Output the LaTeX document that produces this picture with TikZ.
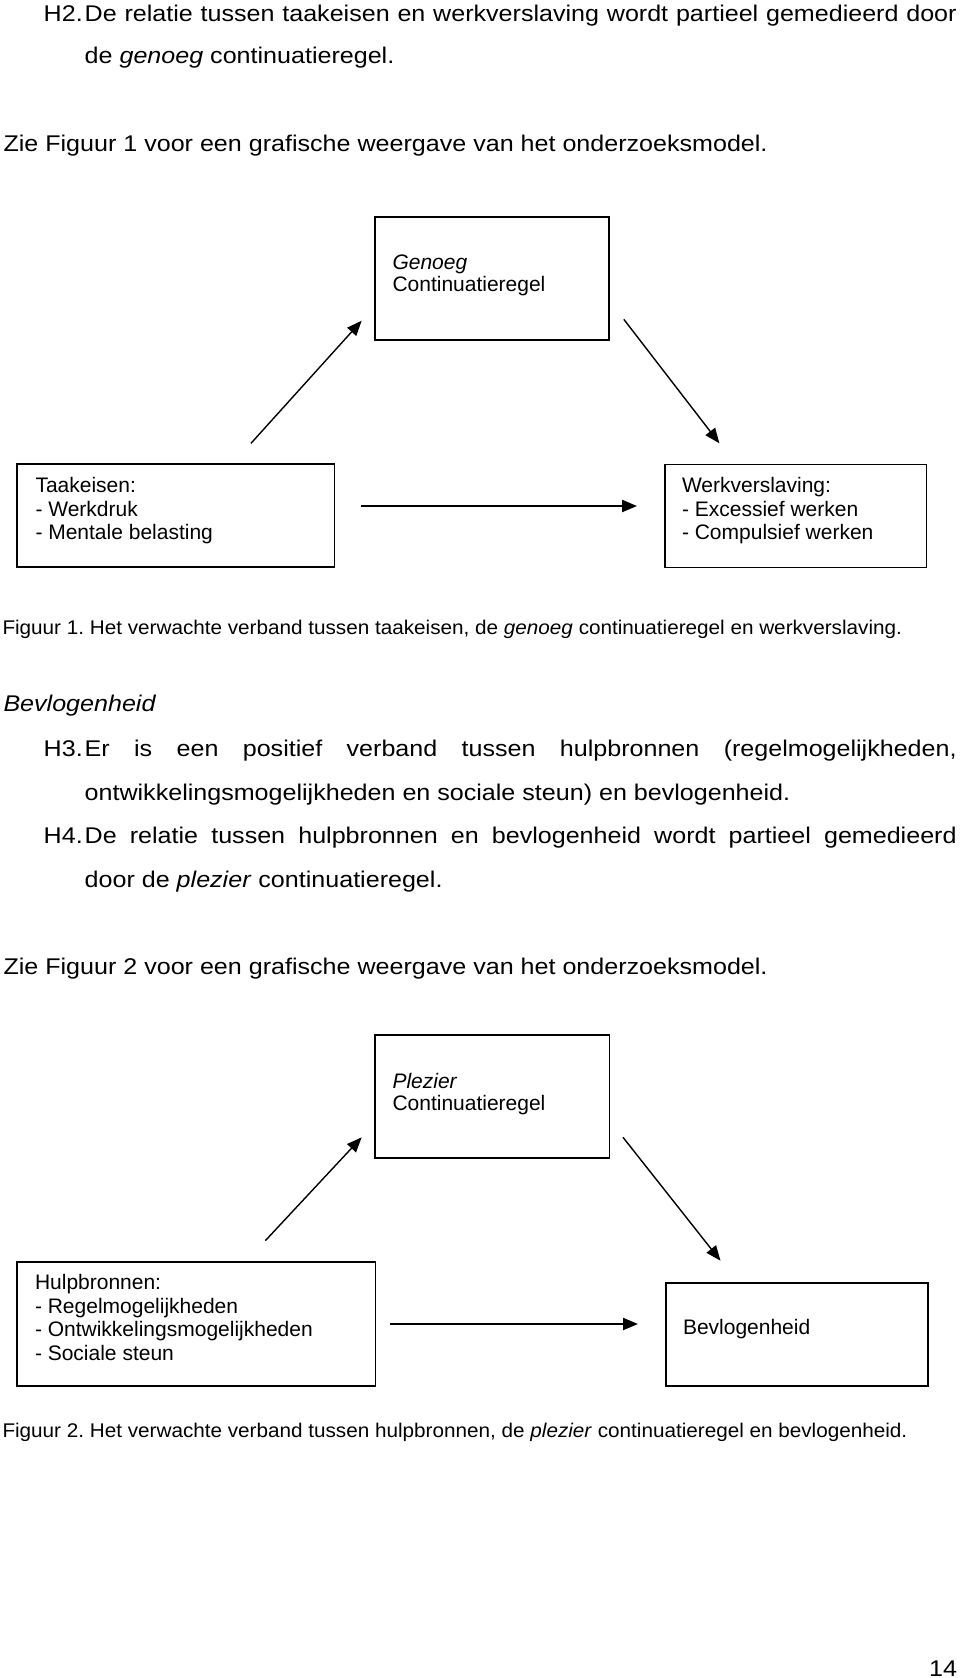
\documentclass[tikz,border=0pt]{standalone}
\usepackage{fontspec}
\setmainfont{Liberation Sans}
\newfontfamily\bodyfam{Liberation Sans}[FakeStretch=1.105]
\newfontfamily\capfam{Liberation Sans}[FakeStretch=1.045]
\usetikzlibrary{arrows.meta}
\newcommand\fBody{\bodyfam\fontsize{22.7}{30}\selectfont\frenchspacing}
\newcommand\fCap{\capfam\fontsize{19.8}{25}\selectfont\frenchspacing}
\newcommand\fBox{\fontsize{21}{25}\selectfont\frenchspacing}
\tikzset{
  txt/.style={inner sep=0pt, outer sep=0pt, anchor=base west, font=\fBody},
  captxt/.style={txt, font=\fCap},
  btxt/.style={txt, font=\fBox},
  boxst/.style={draw=black, line width=1.8pt, inner sep=0pt, outer sep=0pt},
  conn/.style={line width=1.4pt, -{Triangle[length=15pt,width=12pt]}},
  hconn/.style={conn, line width=2.2pt},
}
\begin{document}
\begin{tikzpicture}[x=1pt,y=-1pt]
\useasboundingbox (0,0) rectangle (960,1678);

% ---------- top text ----------
\node[txt] (h2) at (43.7,21.7) {H2.};
\node[txt] (h2a) at (84.7,21.7) {\makebox[872pt][s]{De relatie tussen taakeisen en werkverslaving wordt partieel gemedieerd door}};
\node[txt] (h2b) at (84.7,63.3) {de \textit{genoeg} continuatieregel.};
\node[txt] (zie1) at (3.5,151.7) {Zie Figuur 1 voor een grafische weergave van het onderzoeksmodel.};

% ---------- figure 1 ----------
\node[boxst, minimum width=234.3pt, minimum height=123.6pt] (genoeg) at (492.15,278.5) {};
\node[btxt] (genoegA) at (392.5,269.5) {\textit{Genoeg}};
\node[btxt] (genoegB) at (392.5,291.5) {Continuatieregel};

\node[boxst, minimum width=317.2pt, minimum height=103pt] (taak) at (175.9,515.8) {};
\node[btxt] (taakA) at (35.5,492.8) {Taakeisen:};
\node[btxt] (taakB) at (35.5,516) {- Werkdruk};
\node[btxt] (taakC) at (35.5,539.3) {- Mentale belasting};

\node[boxst, minimum width=261.9pt, minimum height=103pt] (werk) at (795.55,516) {};
\node[btxt] (werkA) at (682,492.8) {Werkverslaving:};
\node[btxt] (werkB) at (682,516) {- Excessief werken};
\node[btxt] (werkC) at (682,539.3) {- Compulsief werken};

\coordinate (a1s) at (251,443.3);
\coordinate (a1e) at (361.7,320.7);
\coordinate (a2s) at (623.8,319.3);
\coordinate (a2e) at (719.4,443.3);
\coordinate (a3s) at (361,506);
\coordinate (a3e) at (637,506);
\draw[conn] (a1s) -- (a1e);
\draw[conn] (a2s) -- (a2e);
\draw[hconn] (a3s) -- (a3e);

\node[captxt] (cap1) at (2.5,634) {Figuur 1. Het verwachte verband tussen taakeisen, de \textit{genoeg} continuatieregel en werkverslaving.};

% ---------- middle text ----------
\node[txt] (bev) at (3.5,711.7) {\textit{Bevlogenheid}};
\node[txt] (h3) at (43.7,756.7) {H3.};
\node[txt] (h3a) at (84.7,756.7) {\makebox[872pt][s]{Er is een positief verband tussen hulpbronnen (regelmogelijkheden,}};
\node[txt] (h3b) at (84.7,800) {ontwikkelingsmogelijkheden en sociale steun) en bevlogenheid.};
\node[txt] (h4) at (43.7,843.3) {H4.};
\node[txt] (h4a) at (84.7,843.3) {\makebox[872pt][s]{De relatie tussen hulpbronnen en bevlogenheid wordt partieel gemedieerd}};
\node[txt] (h4b) at (84.7,887.3) {door de \textit{plezier} continuatieregel.};
\node[txt] (zie2) at (3.5,974.3) {Zie Figuur 2 voor een grafische weergave van het onderzoeksmodel.};

% ---------- figure 2 ----------
\node[boxst, minimum width=234.5pt, minimum height=123.3pt] (plezier) at (492.25,1096.5) {};
\node[btxt] (plezierA) at (392.5,1088) {\textit{Plezier}};
\node[btxt] (plezierB) at (392.5,1110) {Continuatieregel};

\node[boxst, minimum width=358.3pt, minimum height=124pt] (hulp) at (196.35,1323.7) {};
\node[btxt] (hulpA) at (35,1289.3) {Hulpbronnen:};
\node[btxt] (hulpB) at (35,1313) {- Regelmogelijkheden};
\node[btxt] (hulpC) at (35,1336.7) {- Ontwikkelingsmogelijkheden};
\node[btxt] (hulpD) at (35,1360.2) {- Sociale steun};

\node[boxst, minimum width=262pt, minimum height=103pt] (bevl) at (796.6,1334.2) {};
\node[btxt] (bevlA) at (683,1334) {Bevlogenheid};

\coordinate (b1s) at (265.3,1240.7);
\coordinate (b1e) at (361.7,1137.3);
\coordinate (b2s) at (623,1137.3);
\coordinate (b2e) at (720.5,1260.7);
\coordinate (b3s) at (389.6,1324);
\coordinate (b3e) at (638,1324);
\draw[conn] (b1s) -- (b1e);
\draw[conn] (b2s) -- (b2e);
\draw[hconn] (b3s) -- (b3e);

\node[captxt] (cap2) at (2.5,1437) {Figuur 2. Het verwachte verband tussen hulpbronnen, de \textit{plezier} continuatieregel en bevlogenheid.};

\node[txt, anchor=base east] (page) at (957,1676) {14};
\end{tikzpicture}
\end{document}
